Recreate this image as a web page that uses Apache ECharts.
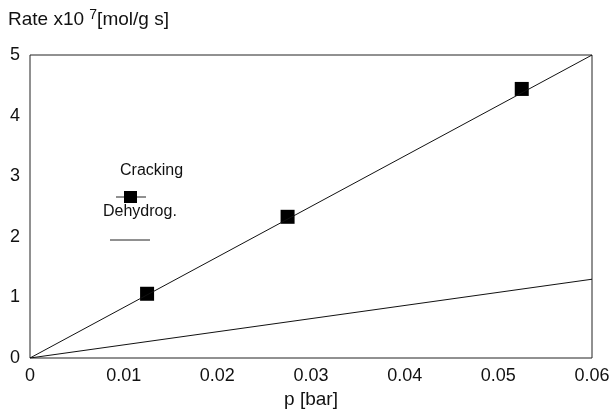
<!DOCTYPE html>
<html><head><meta charset="utf-8">
<script src="https://cdn.jsdelivr.net/npm/echarts@6/dist/echarts.min.js"></script>
<style>html,body{margin:0;padding:0;background:#fff}#c{width:613px;height:410px}</style>
</head><body><div id="c"></div>
<script>
const xTicks = [0, 0.01, 0.02, 0.03, 0.04, 0.05, 0.06];
const yTicks = [0, 1, 2, 3, 4, 5];
const crackingPoints = [[0.0125, 1.06], [0.0275, 2.33], [0.0525, 4.44]];
const crackingLine = [[0, 0], [0.06, 5.0]];
const dehydrogLine = [[0, 0], [0.06, 1.3]];
const legendNames = ['Cracking', 'Dehydrog.'];

const font = 'Liberation Sans, Arial, sans-serif';
const chart = echarts.init(document.getElementById('c'));
chart.setOption({
  animation: false,
  backgroundColor: '#fff',
  grid: {left: 30, right: 21, top: 55, bottom: 52, show: true, borderColor: '#222', borderWidth: 1,
         containLabel: false, outerBoundsMode: 'none'},
  xAxis: {
    type: 'value', min: 0, max: 0.06, interval: 0.01,
    name: 'p [bar]', nameLocation: 'middle', nameGap: 31,
    nameTextStyle: {fontFamily: font, fontSize: 19, color: '#111'},
    axisLine: {show: false}, axisTick: {show: false}, splitLine: {show: false},
    axisLabel: {fontFamily: font, fontSize: 18, color: '#111', margin: 9,
      formatter: v => { const s = xTicks.find(t => Math.abs(t - v) < 1e-9); return s === 0 ? '0' : String(+v.toFixed(2)); }}
  },
  yAxis: {
    type: 'value', min: 0, max: 5, interval: 1,
    axisLine: {show: false}, axisTick: {show: false}, splitLine: {show: false},
    axisLabel: {fontFamily: font, fontSize: 18, color: '#111', margin: 10,
      formatter: v => String(yTicks.find(t => t === v) ?? v)}
  },
  graphic: [
    {type: 'text', left: 8, top: 8, style: {
      text: '{a|Rate x10 }{s|7}{a|[mol/g s]}',
      rich: {a: {fontFamily: font, fontSize: 19, fill: '#111', verticalAlign: 'bottom'},
             s: {fontFamily: font, fontSize: 14, fill: '#111', verticalAlign: 'top', padding: [0,0,7,0]}}}},
    {type: 'text', left: 120, top: 163, style: {text: legendNames[0], fontFamily: font, fontSize: 16, fill: '#111'}},
    {type: 'line', shape: {x1: 116, y1: 197, x2: 146, y2: 197}, style: {stroke: '#222', lineWidth: 1}},
    {type: 'rect', shape: {x: 124, y: 191, width: 13, height: 12}, style: {fill: '#000'}},
    {type: 'text', left: 103, top: 204, style: {text: legendNames[1], fontFamily: font, fontSize: 16, fill: '#111'}},
    {type: 'line', shape: {x1: 110, y1: 240, x2: 150, y2: 240}, style: {stroke: '#222', lineWidth: 1}}
  ],
  series: [
    {name: 'Cracking line', type: 'line', data: crackingLine, showSymbol: false,
     lineStyle: {color: '#111', width: 1}},
    {name: 'Dehydrog.', type: 'line', data: dehydrogLine, showSymbol: false,
     lineStyle: {color: '#111', width: 1}},
    {name: 'Cracking', type: 'scatter', data: crackingPoints, symbol: 'rect', symbolSize: 14,
     itemStyle: {color: '#000', opacity: 1}}
  ]
});
</script></body></html>
